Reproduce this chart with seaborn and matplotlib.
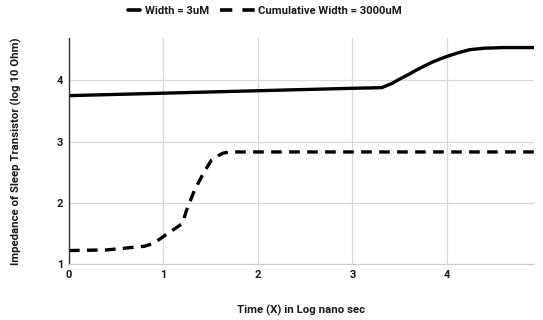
import pandas as pd
import numpy as np
import matplotlib
matplotlib.use('Agg')
import matplotlib.pyplot as plt
from matplotlib.lines import Line2D
import seaborn as sns

# Width = 3uM (solid)
x_w3 = [0, 1, 2, 3, 3.31, 3.42, 3.5, 3.6, 3.68, 3.77, 3.85, 3.93, 4.0, 4.12, 4.24, 4.4, 4.6, 4.92]
y_w3 = [3.75, 3.79, 3.83, 3.87, 3.88, 3.95, 4.02, 4.10, 4.17, 4.24, 4.30, 4.35, 4.39, 4.45, 4.50, 4.525, 4.535, 4.535]

# Cumulative Width = 3000uM (dashed)
x_cw = [0, 0.4, 0.8, 0.9, 1.0, 1.2, 1.245, 1.33, 1.44, 1.51, 1.58, 1.63, 1.70, 2.5, 3.5, 4.92]
y_cw = [1.22, 1.23, 1.29, 1.34, 1.45, 1.66, 1.88, 2.21, 2.53, 2.70, 2.77, 2.81, 2.83, 2.83, 2.83, 2.83]

labels = ['Width = 3uM', 'Cumulative Width = 3000uM']

df = pd.concat([
    pd.DataFrame({'x': x_w3, 'y': y_w3, 'series': labels[0]}),
    pd.DataFrame({'x': x_cw, 'y': y_cw, 'series': labels[1]}),
])

sns.set_style('whitegrid')
plt.rcParams['font.family'] = 'Roboto'
plt.rcParams['font.weight'] = 'bold'

fig = plt.figure(figsize=(5.43, 3.2), dpi=100)
ax = fig.add_axes([0.127, 0.175, 0.856, 0.706])

sns.lineplot(
    data=df, x='x', y='y',
    style='series', style_order=labels,
    dashes={labels[0]: '', labels[1]: (3.2, 2.2)},
    color='black', linewidth=2.4, ax=ax, legend=False
)

ax.set_xlim(0, 4.92)
ax.set_ylim(1, 4.69)
ax.set_xticks([0, 1, 2, 3, 4])
ax.set_yticks([1, 2, 3, 4])
ax.grid(True, color='#d9d9d9', linewidth=0.9)
for s in ['top', 'right']:
    ax.spines[s].set_visible(False)
ax.spines['left'].set_color('#333333')
ax.spines['left'].set_linewidth(1.0)
ax.spines['bottom'].set_color('#cccccc')
ax.tick_params(axis='both', length=0, pad=4, colors='#1a1a1a')
ax.set_xticklabels(['0', '1', '2', '3', '4'], family='Roboto', weight='bold', fontsize=8)
ax.set_yticklabels(['1', '2', '3', '4'], family='Roboto', weight='bold', fontsize=8)

ax.set_xlabel('Time (X) in Log nano sec', family='Roboto', fontsize=8.2,
              fontweight='bold', labelpad=18, color='#1a1a1a')
ax.set_ylabel('Impedance of Sleep Transistor (log 10 Ohm)', family='Roboto',
              fontsize=8.2, fontweight='bold', labelpad=25, color='#1a1a1a')

# two legends so each handle keeps its own length
h1 = Line2D([], [], color='black', linewidth=2.6)
h2 = Line2D([], [], color='black', linewidth=2.6, dashes=(3.4, 2.8))
leg1 = fig.legend([h1], [labels[0]], loc='center left',
                  bbox_to_anchor=(128 / 543, 1 - 11 / 320), frameon=False,
                  prop={'family': 'Roboto', 'weight': 'bold', 'size': 8.1},
                  handlelength=1.05, handletextpad=0.5,
                  borderpad=0, borderaxespad=0)
leg2 = fig.legend([h2], [labels[1]], loc='center left',
                  bbox_to_anchor=(220 / 543, 1 - 11 / 320), frameon=False,
                  prop={'family': 'Roboto', 'weight': 'bold', 'size': 8.1},
                  handlelength=3.1, handletextpad=0.3,
                  borderpad=0, borderaxespad=0)
for leg in [leg1, leg2]:
    for t in leg.get_texts():
        t.set_color('#1a1a1a')

fig.savefig('out.png', dpi=100)
